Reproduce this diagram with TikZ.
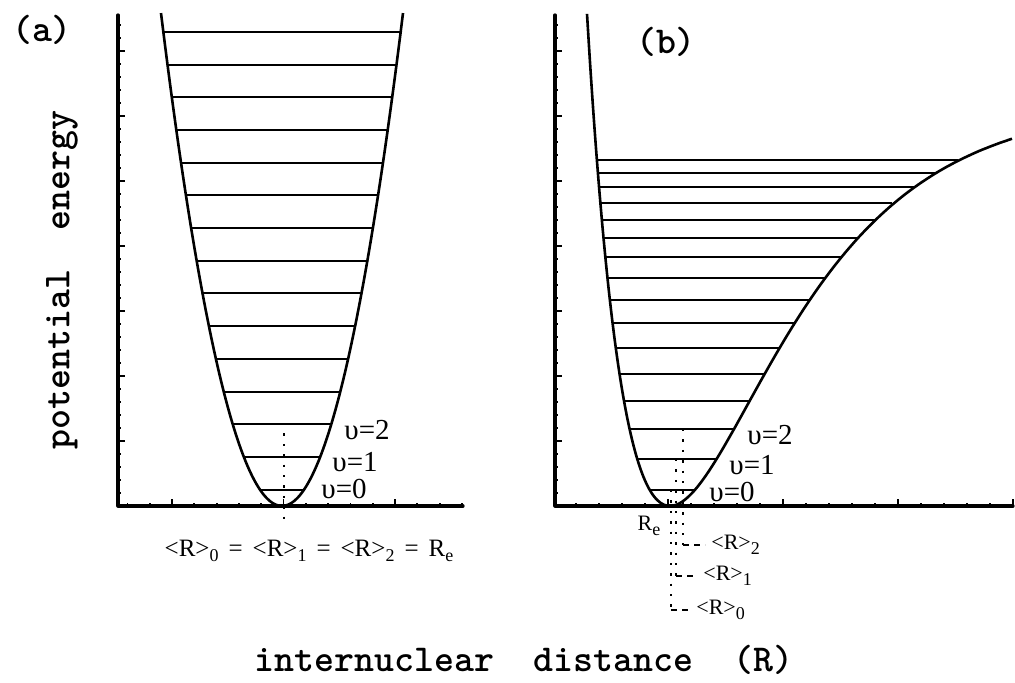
\documentclass[tikz,border=0pt]{standalone}
\usepackage{fontspec}
\newfontfamily\labelfont{Liberation Serif}
\newcommand{\lowidx}[1]{\raisebox{-0.45ex}{\fontsize{9}{9}\selectfont #1}}

\begin{document}
\begin{tikzpicture}[x=0.5pt,y=-0.5pt,
    declare function={morse(\r)=404*(1-exp(-(\r-670)/111.6))*(1-exp(-(\r-670)/111.6));},
    axis/.style={line width=1.6pt,line cap=round,line join=round},
    tick/.style={line width=0.9pt},
    curve/.style={line width=1.3pt,line join=round},
    level/.style={line width=1pt},
    guide/.style={line width=1.2pt,dash pattern=on 1.2pt off 4pt},
    lead/.style={line width=0.7pt,dash pattern=on 3pt off 2.5pt},
    tt/.style={font=\fontsize{19}{22}\selectfont\ttfamily\bfseries,inner sep=0pt},
    vlabel/.style={font=\fontsize{14.5}{16}\selectfont\labelfont,anchor=west,inner sep=0pt},
    eqlabel/.style={font=\fontsize{12.5}{14}\selectfont\labelfont,inner sep=0pt},
    rlabel/.style={font=\fontsize{11}{13}\selectfont\labelfont,anchor=west,inner sep=0pt}
]
\useasboundingbox (0,0) rectangle (1015,683);

% Axes
\draw[axis] (118,15) -- (118,506) -- (463,506);
\draw[axis] (555,15) -- (555,506) -- (1013,506);

% Energy ticks
\foreach \ax in {118,555}{
    \foreach \k in {1,...,37}
        \draw[tick] (\ax,{506-13*\k}) -- ++(3,0);
    \foreach \k in {1,...,7}
        \draw[tick] (\ax,{506-65*\k}) -- ++(7,0);
}

% Distance ticks
\foreach \k in {0,...,15}
    \draw[tick] ({127.4+22.3*\k},506) -- ++(0,-3);
\foreach \k in {2,7,12}
    \draw[tick] ({127.4+22.3*\k},506) -- ++(0,-7);
\foreach \k in {0,...,19}
    \draw[tick] ({576+23*\k},506) -- ++(0,-3);
\foreach \k in {4,9,14,19}
    \draw[tick] ({576+23*\k},506) -- ++(0,-7);

% (a) harmonic well
\draw[curve] plot[domain=-121:121,samples=81,smooth] ({282+\x},{506-(\x/5.45)*(\x/5.45)});
\foreach \n in {0,...,14}{
    \pgfmathsetmacro{\E}{32.7*(\n+0.5)}
    \pgfmathsetmacro{\w}{5.45*sqrt(\E)}
    \draw[level] ({282-\w},{506-\E}) -- ({282+\w},{506-\E});
}

% (b) Morse well
\draw[curve] plot[domain=587:1012,samples=140,smooth] (\x,{506-morse(\x)});
\foreach \n in {0,...,15}{
    \pgfmathsetmacro{\E}{32.32*(\n+0.5)-0.645*(\n+0.5)*(\n+0.5)}
    \pgfmathsetmacro{\s}{sqrt(\E/404)}
    \pgfmathsetmacro{\xl}{670-111.6*ln(1+\s)}
    \pgfmathsetmacro{\xr}{670-111.6*ln(1-\s)}
    \draw[level] (\xl,{506-\E}) -- (\xr,{506-\E});
}

% Panel and axis labels
\node[tt] (panelA) at (42,30) {(a)};
\node[tt] (panelB) at (666,42) {(b)};
\node[tt,rotate=90] (ylabel) at (62,280) {potential\ \ energy};
\node[tt] (xlabel) at (524,660) {internuclear\ \ distance\ \ (R)};

% Level labels
\node[vlabel] (aTwo) at (344,430) {υ=2};
\node[vlabel] (aOne) at (332,462) {υ=1};
\node[vlabel] (aZero) at (321,489) {υ=0};
\node[vlabel] (bTwo) at (747,435) {υ=2};
\node[vlabel] (bOne) at (729,465) {υ=1};
\node[vlabel] (bZero) at (709,492) {υ=0};

% (a) mean distances
\draw[guide] (284,423) -- (284,522);
\node[eqlabel] (eqA) at (309,551)
    {<R>\lowidx{0}\hspace{0.4em}=\hspace{0.4em}<R>\lowidx{1}\hspace{0.4em}=\hspace{0.4em}<R>\lowidx{2}\hspace{0.4em}=\hspace{0.4em}R\lowidx{e}};

% (b) mean distances
\node[rlabel,anchor=center] (Re) at (649,526) {R\lowidx{e}};
\node[rlabel] (Rtwo) at (711,545) {<R>\lowidx{2}};
\node[rlabel] (Rone) at (703,576) {<R>\lowidx{1}};
\node[rlabel] (Rzero) at (696,610) {<R>\lowidx{0}};
\coordinate (topTwo) at (683,429);
\coordinate (topOne) at (676,459);
\coordinate (topZero) at (671,490);
\coordinate (bendTwo) at (683,545);
\coordinate (bendOne) at (676,576);
\coordinate (bendZero) at (671,610);
\draw[guide] (topTwo) -- (bendTwo);
\draw[guide] (topOne) -- (bendOne);
\draw[guide] (topZero) -- (bendZero);
\draw[lead] (bendTwo) -- ([xshift=-3pt]Rtwo.west);
\draw[lead] (bendOne) -- ([xshift=-3pt]Rone.west);
\draw[lead] (bendZero) -- ([xshift=-3pt]Rzero.west);

\end{tikzpicture}
\end{document}
